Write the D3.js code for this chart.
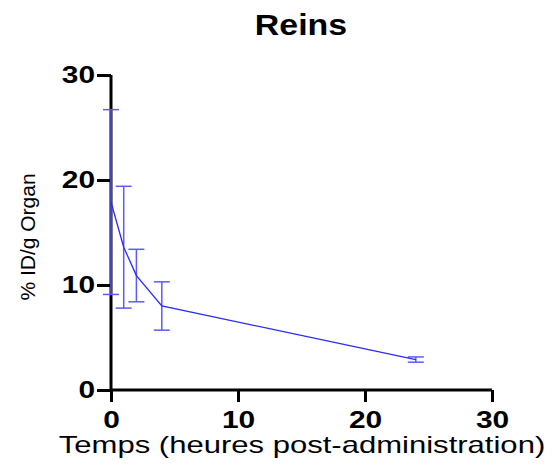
<!DOCTYPE html>
<html>
<head>
<meta charset="utf-8">
<script src="https://cdn.jsdelivr.net/npm/d3@7"></script>
<style>
  body { margin: 0; background: #fff; }
  svg { font-family: "Liberation Sans", Arial, sans-serif; }
</style>
</head>
<body>
<div id="graph"></div>
<script>
// data
const hours = [0, 1, 2, 4, 24];
const meanValues = [17.9, 13.6, 10.9, 8.0, 2.9];
const sdValues = [8.8, 5.8, 2.5, 2.3, 0.25];
const xTicks = [0, 10, 20, 30];
const yTicks = [0, 10, 20, 30];

const w = 554;
const h = 473;
const pLeft = 111, pRight = 492, pTop = 75, pBottom = 390;
// the original export is a bit wider than tall, so texts get stretched sideways
const sx = 1.3;

const svg = d3.select("#graph").append("svg")
    .attr("width", w)
    .attr("height", h);

const x = d3.scaleLinear().domain([0, 30]).range([pLeft, pRight]);
const y = d3.scaleLinear().domain([0, 30]).range([pBottom, pTop]);

const points = hours.map((t, i) => ({ t: t, m: meanValues[i], sd: sdValues[i] }));

// axes
const xAxis = svg.append("g")
    .attr("transform", `translate(0,${pBottom})`)
    .call(d3.axisBottom(x).tickValues(xTicks).tickSize(12));
const yAxis = svg.append("g")
    .attr("transform", `translate(${pLeft},0)`)
    .call(d3.axisLeft(y).tickValues(yTicks).tickSize(14));

[xAxis, yAxis].forEach(a => {
    a.select(".domain").attr("stroke", "#000").attr("stroke-width", 3);
    a.selectAll(".tick line").attr("stroke", "#000").attr("stroke-width", 3);
    a.selectAll(".tick text")
        .attr("fill", "#000")
        .attr("transform", `scale(${sx},1)`)
        .style("font-size", "23px")
        .style("font-weight", "bold")
        .style("font-family", "'Liberation Sans', Arial, sans-serif");
});
xAxis.select(".domain").attr("d", `M${pLeft},0H${pRight}`);
yAxis.select(".domain").attr("d", `M0,${pBottom}V${pTop}`);
xAxis.selectAll(".tick text").attr("y", 38).attr("dy", 0);
yAxis.selectAll(".tick text").attr("x", -16 / sx);

// error bars
const err = svg.append("g")
    .attr("stroke", "#5b5bff")
    .attr("stroke-width", 1.5)
    .attr("fill", "none");

err.selectAll("line.v")
    .data(points)
    .join("line")
    .attr("class", "v")
    .attr("x1", d => x(d.t)).attr("x2", d => x(d.t))
    .attr("y1", d => y(d.m + d.sd)).attr("y2", d => y(d.m - d.sd));

err.selectAll("line.top")
    .data(points)
    .join("line")
    .attr("class", "top")
    .attr("x1", d => x(d.t) - 8).attr("x2", d => x(d.t) + 8)
    .attr("y1", d => y(d.m + d.sd)).attr("y2", d => y(d.m + d.sd));

err.selectAll("line.bot")
    .data(points)
    .join("line")
    .attr("class", "bot")
    .attr("x1", d => x(d.t) - 8).attr("x2", d => x(d.t) + 8)
    .attr("y1", d => y(d.m - d.sd)).attr("y2", d => y(d.m - d.sd));

// mean line
svg.append("path")
    .datum(points)
    .attr("fill", "none")
    .attr("stroke", "#2a2aff")
    .attr("stroke-width", 1.3)
    .attr("d", d3.line().x(d => x(d.t)).y(d => y(d.m)));

// title and labels
svg.append("text")
    .attr("transform", "translate(301,35) scale(1.13,1)")
    .attr("text-anchor", "middle")
    .style("font-size", "30px")
    .style("font-weight", "bold")
    .text("Reins");

svg.append("text")
    .attr("transform", "translate(302,453) scale(1.35,1)")
    .attr("text-anchor", "middle")
    .style("font-size", "23px")
    .text("Temps (heures post-administration)");

svg.append("text")
    .attr("transform", "translate(35,237) rotate(-90)")
    .attr("text-anchor", "middle")
    .style("font-size", "21px")
    .text("% ID/g Organ");
</script>
</body>
</html>
